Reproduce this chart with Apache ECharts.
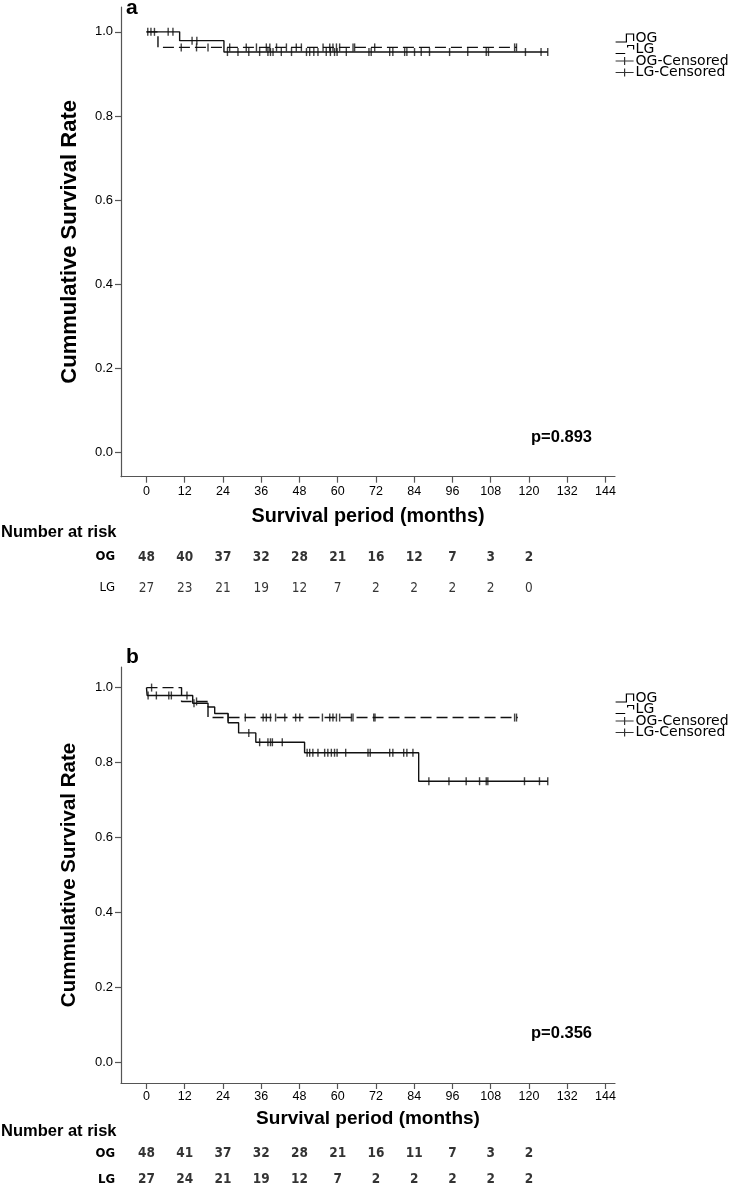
<!DOCTYPE html>
<html><head><meta charset="utf-8">
<script src="https://cdn.jsdelivr.net/npm/echarts@6/dist/echarts.min.js"></script>
<style>html,body{margin:0;padding:0;background:#fff}#c{width:738px;height:1192px}</style>
</head><body><div id="c"></div>
<script>
// ---------- data ----------
const xTicks = [0,12,24,36,48,60,72,84,96,108,120,132,144];
const yTicks = [0,0.2,0.4,0.6,0.8,1.0];
const riskTimes = [0,12,24,36,48,60,72,84,96,108,120];
const riskGroups = ['OG','LG'];
const riskA_OG = [48,40,37,32,28,21,16,12,7,3,2];
const riskA_LG = [27,23,21,19,12,7,2,2,2,2,0];
const riskB_OG = [48,41,37,32,28,21,16,11,7,3,2];
const riskB_LG = [27,24,21,19,12,7,2,2,2,2,2];

// Kaplan-Meier steps [month, survival] (panel a)
const ogA_steps = [[0,1],[10.4,0.979],[24.3,0.952],[125.9,0.952]];
const lgA_steps = [[0,1],[3.6,0.963],[116.2,0.963]];
const ogA_cens = [0.4,1.4,2.5,6.8,8.3,14.3,15.8,25.4,28.7,32.1,35.5,38.1,38.9,39.7,42.3,45.5,50.2,51.2,52.5,53.8,56.4,57.7,59.0,59.8,62.7,69.8,70.5,76.3,77.3,81.0,81.7,84.1,86.2,88.8,95.1,100.8,106.6,107.3,118.9,123.8,125.9];
const lgA_cens = [10.9,15.7,19.3,26.1,31.3,34.5,37.6,38.7,40.8,43.9,47.0,48.6,55.4,57.5,58.5,59.6,60.6,64.8,65.3,71.6,115.5,116.1];

// panel b
const ogB_steps = [[0,1],[0.2,0.979],[14.5,0.958],[19.3,0.948],[21.4,0.931],[25.6,0.906],[28.9,0.879],[34.3,0.854],[49.6,0.826],[85.4,0.750],[125.9,0.750]];
const lgB_steps = [[0,1],[11.0,0.963],[19.3,0.920],[116.5,0.920]];
const ogB_cens = [0.5,3.1,7.0,7.8,12.7,14.9,32.1,35.5,38.1,38.9,39.5,42.6,50.4,51.2,52.2,53.8,55.9,56.9,58.0,59.0,59.8,62.5,69.5,70.2,76.3,77.3,80.7,81.7,83.6,88.6,94.9,100.3,104.5,106.6,107.1,118.6,123.3,125.9];
const lgB_cens = [1.6,15.7,25.6,31.0,36.6,37.6,38.9,40.5,43.4,46.8,48.1,55.2,57.5,58.5,59.6,60.6,64.3,64.8,71.3,71.7,115.5,116.1];

// ---------- helpers ----------
function survAt(steps, t){ let v = steps[0][1]; for (const s of steps){ if (s[0] <= t) v = s[1]; } return v; }
function censPts(steps, times){ return times.map(t => [t, survAt(steps, t)]); }

const FONT = '"Liberation Sans", Arial, sans-serif';
const NARROW = '"Liberation Sans Narrow", "DejaVu Sans Condensed", sans-serif';
const LEGFONT = '"DejaVu Sans", "Liberation Sans", sans-serif';
const AX = '#555';
const LINE = '#111';

const ICON_OG = 'path://M0,8L9,8L9,0L15,0L15,7';
const ICON_LG = 'path://M0,8L8,8M10,2L10,0L15,0L15,4';
const ICON_C  = 'path://M0,4L18,4M9,0L9,8';

const panels = [
  {top:7, bottom:476.7, ymin:-0.057, ymax:1.059, riskTop:541.5, riskH:62, legendTop:31,
   og:ogA_steps, lg:lgA_steps, ogc:ogA_cens, lgc:lgA_cens, rOG:riskA_OG, rLG:riskA_LG, lgBold:false,
   xMargin:8, xNameGap:30, xNameSize:19.8, yNameSize:22, yNameGap:40,
   label:'a', labelTop:-2, p:'p=0.893', pTop:429, narTop:524},
  {top:667, bottom:1083, ymin:-0.056, ymax:1.055, riskTop:1141, riskH:52, legendTop:691,
   og:ogB_steps, lg:lgB_steps, ogc:ogB_cens, lgc:lgB_cens, rOG:riskB_OG, rLG:riskB_LG, lgBold:true,
   xMargin:7, xNameGap:26, xNameSize:19, yNameSize:20.5, yNameGap:41,
   label:'b', labelTop:647, p:'p=0.356', pTop:1025, narTop:1123}
];

const GL = 121, GW = 494, XMIN = -8, XMAX = 147;

const grid = [], xAxis = [], yAxis = [], series = [], legend = [], title = [];
panels.forEach((P, k) => {
  const gi = grid.length;
  grid.push({left:GL, width:GW, top:P.top, height:P.bottom - P.top});
  grid.push({left:GL, width:GW, top:P.riskTop, height:P.riskH});
  xAxis.push({
    type:'value', gridIndex:gi, min:XMIN, max:XMAX,
    axisLine:{show:true, onZero:false, lineStyle:{color:AX, width:1.2}},
    axisTick:{show:true, length:6, inside:false, customValues:xTicks, lineStyle:{color:AX, width:1.2}},
    axisLabel:{show:true, customValues:xTicks, margin:P.xMargin, fontFamily:FONT, fontSize:12.5, color:'#000'},
    splitLine:{show:false},
    name:'Survival period (months)', nameLocation:'middle', nameGap:P.xNameGap,
    nameTextStyle:{fontFamily:FONT, fontSize:P.xNameSize, fontWeight:'bold', color:'#000'}
  });
  xAxis.push({type:'value', gridIndex:gi+1, min:XMIN, max:XMAX, show:false});
  yAxis.push({
    type:'value', gridIndex:gi, min:P.ymin, max:P.ymax,
    axisLine:{show:true, onZero:false, lineStyle:{color:AX, width:1.2}},
    axisTick:{show:true, length:6, customValues:yTicks, lineStyle:{color:AX, width:1.2}},
    axisLabel:{show:true, customValues:yTicks, margin:8, fontFamily:FONT, fontSize:13, color:'#000',
      formatter: v => v.toFixed(1)},
    splitLine:{show:false},
    name:'Cummulative Survival Rate', nameLocation:'middle', nameGap:P.yNameGap, nameRotate:90,
    nameTextStyle:{fontFamily:FONT, fontSize:P.yNameSize, fontWeight:'bold', color:'#000'}
  });
  yAxis.push({
    type:'category', gridIndex:gi+1, data:riskGroups, inverse:true,
    axisLine:{show:false}, axisTick:{show:false},
    axisLabel:{margin:6, fontFamily:NARROW, fontSize:13, color:'#000',
      formatter: v => (v === 'OG' || P.lgBold) ? '{b|' + v + '}' : '{n|' + v + '}',
      rich:{b:{fontFamily:NARROW, fontSize:13, fontWeight:'bold'}, n:{fontFamily:NARROW, fontSize:13}}}
  });
  const sx = gi, sy = gi;
  series.push({name:'OG', type:'line', step:'end', xAxisIndex:sx, yAxisIndex:sy, data:P.og,
    symbol:'none', lineStyle:{color:LINE, width:1.4, type:'solid'}, itemStyle:{color:LINE}, animation:false, z:3});
  series.push({name:'LG', type:'line', step:'end', xAxisIndex:sx, yAxisIndex:sy, data:P.lg,
    symbol:'none', lineStyle:{color:LINE, width:1.4, type:[11,5]}, itemStyle:{color:LINE}, animation:false, z:3});
  series.push({name:'OG-Censored', type:'scatter', xAxisIndex:sx, yAxisIndex:sy, data:censPts(P.og, P.ogc),
    symbol:'rect', symbolSize:[1.4,8], itemStyle:{color:LINE}, animation:false, z:4});
  series.push({name:'LG-Censored', type:'scatter', xAxisIndex:sx, yAxisIndex:sy, data:censPts(P.lg, P.lgc),
    symbol:'rect', symbolSize:[1.4,8], itemStyle:{color:LINE}, animation:false, z:4});
  // number at risk table
  [['OG', P.rOG, true], ['LG', P.rLG, P.lgBold]].forEach(([g, arr, bold]) => {
    series.push({name:'risk-' + g + k, type:'scatter', xAxisIndex:gi+1, yAxisIndex:gi+1,
      data: riskTimes.map((t,i) => [t, g, arr[i]]),
      symbolSize:1, itemStyle:{color:'rgba(0,0,0,0)'}, animation:false, silent:true,
      label:{show:true, position:'inside', formatter: p => String(p.value[2]),
        fontFamily:NARROW, fontSize:13.5, fontWeight: bold ? 'bold' : 'normal', color:'#000'}});
  });
  legend.push({
    top:P.legendTop, left:615, orient:'vertical', itemWidth:18, itemHeight:8, itemGap:-2.5,
    padding:0, selectedMode:false, symbolKeepAspect:false,
    textStyle:{fontFamily:LEGFONT, fontSize:14, color:'#000', padding:[0,0,0,-3]},
    itemStyle:{color:'rgba(0,0,0,0)', borderColor:'#000', borderWidth:1.2},
    data:[
      {name:'OG', icon:ICON_OG},
      {name:'LG', icon:ICON_LG},
      {name:'OG-Censored', icon:ICON_C},
      {name:'LG-Censored', icon:ICON_C}
    ]
  });
  title.push({text:P.label, left:126, top:P.labelTop, padding:0,
    textStyle:{fontFamily:FONT, fontSize:21, fontWeight:'bold', color:'#000'}});
  title.push({text:P.p, left:531, top:P.pTop, padding:0,
    textStyle:{fontFamily:FONT, fontSize:16.5, fontWeight:'bold', color:'#000'}});
  title.push({text:'Number at risk', left:1, top:P.narTop, padding:0,
    textStyle:{fontFamily:FONT, fontSize:16.5, fontWeight:'bold', color:'#000'}});
});

const chart = echarts.init(document.getElementById('c'), null, {renderer:'canvas'});
chart.setOption({backgroundColor:'#fff', animation:false, title, grid, xAxis, yAxis, series, legend});
</script></body></html>
